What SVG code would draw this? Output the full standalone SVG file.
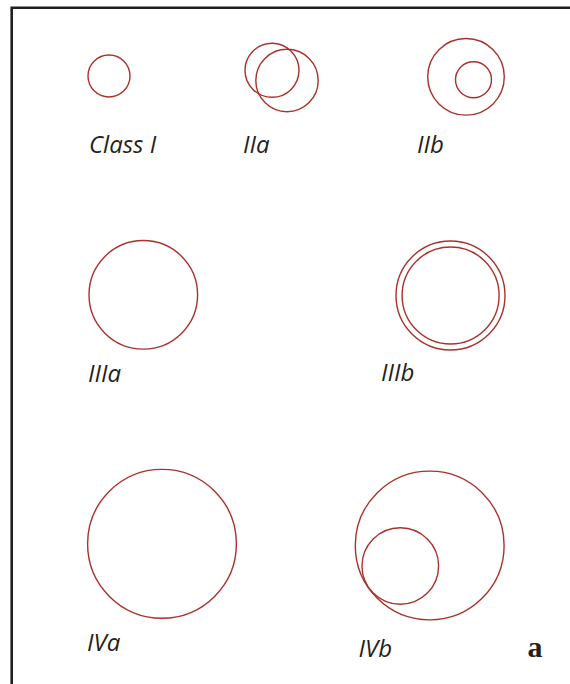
<svg xmlns="http://www.w3.org/2000/svg" width="570" height="684" viewBox="0 0 570 684">
<style>
.c{fill:none;stroke:#a9322b;stroke-width:1.4}
.l{font-family:"Open Sans","Liberation Sans",sans-serif;font-style:italic;font-size:24px;fill:#231f20}
.p{font-family:"Liberation Serif",serif;font-weight:bold;font-size:30px;fill:#231f20}
</style>
<rect width="570" height="684" fill="#fff"/>
<path d="M11.7,684 V7.7 H572" fill="none" stroke="#231f20" stroke-width="2.6"/>
<g id="classI"><circle class="c" cx="109" cy="76" r="21"/><text class="l" x="89" y="153">Class I</text></g>
<g id="IIa"><circle class="c" cx="272" cy="70.3" r="27"/><circle class="c" cx="287" cy="80.5" r="31.2"/><text class="l" x="243" y="153">IIa</text></g>
<g id="IIb"><circle class="c" cx="466" cy="76.8" r="38.3"/><circle class="c" cx="473.5" cy="79.7" r="18"/><text class="l" x="417" y="153">IIb</text></g>
<g id="IIIa"><circle class="c" cx="143.3" cy="294.8" r="54.3"/><text class="l" x="88" y="381.5">IIIa</text></g>
<g id="IIIb"><circle class="c" cx="450.5" cy="295.5" r="54.5"/><circle class="c" cx="450.6" cy="295.5" r="48.5"/><text class="l" x="381" y="380.5">IIIb</text></g>
<g id="IVa"><circle class="c" cx="162" cy="543.8" r="74.4"/><text class="l" x="87" y="651">IVa</text></g>
<g id="IVb"><circle class="c" cx="429.7" cy="545.5" r="74.4"/><circle class="c" cx="400.3" cy="566" r="38.3"/><text class="l" x="358.5" y="657.3">IVb</text></g>
<text class="p" x="527.5" y="657.3">a</text>
<g id="connectors"/>
</svg>
